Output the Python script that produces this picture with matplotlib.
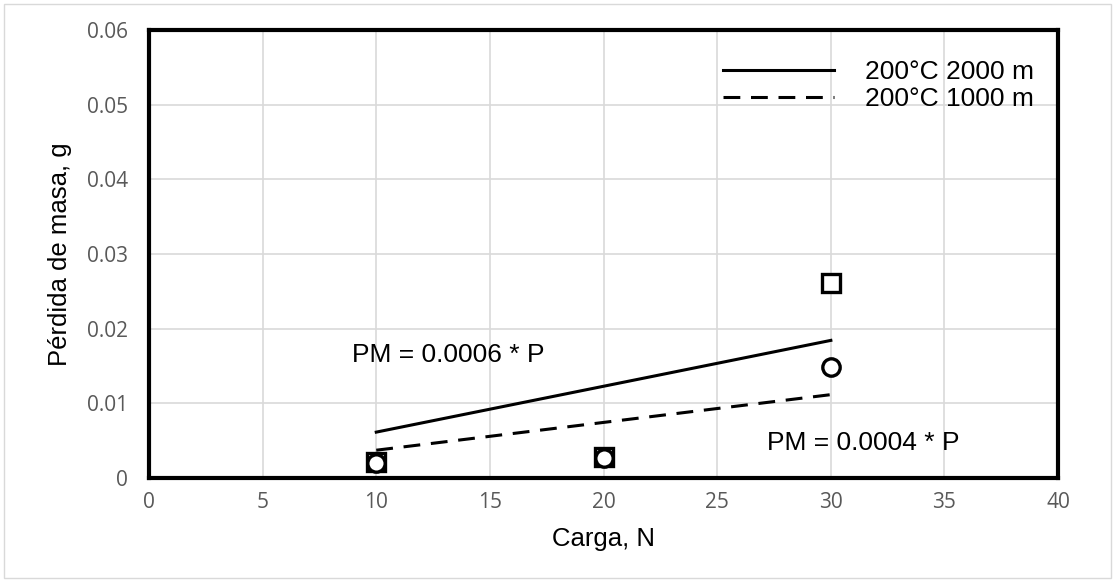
import numpy as np
import matplotlib.pyplot as plt
from matplotlib.patches import Rectangle

plt.rcParams['font.family'] = ['Liberation Sans', 'DejaVu Sans']

carga = [10, 20, 30]
pm_2000 = [0.0021, 0.0028, 0.0261]   # squares
pm_1000 = [0.0020, 0.0027, 0.0149]   # circles
xticks = [0, 5, 10, 15, 20, 25, 30, 35, 40]
yticks = [0, 0.01, 0.02, 0.03, 0.04, 0.05, 0.06]
ytick_labels = ["0", "0.01", "0.02", "0.03", "0.04", "0.05", "0.06"]

# linear fit through origin
x = np.asarray(carga, dtype=float)
k2000 = np.sum(x * np.asarray(pm_2000)) / np.sum(x * x)
k1000 = np.sum(x * np.asarray(pm_1000)) / np.sum(x * x)

fig = plt.figure(figsize=(11.15, 5.82), dpi=100)
ax = fig.add_axes([0.1336, 0.1787, 0.8154, 0.7698])

fig.patches.append(Rectangle((0.004, 0.007), 0.992, 0.986, transform=fig.transFigure,
                             fill=False, edgecolor="#d9d9d9", linewidth=1))

ax.plot(x, k2000 * x, color="black", linewidth=2.2, label="200°C 2000 m")
ax.plot(x, k1000 * x, color="black", linewidth=2.2, linestyle=(0, (5.5, 3.5)), label="200°C 1000 m")

ax.plot(carga, pm_2000, linestyle="none", marker="s", markersize=13, markerfacecolor="white",
        markeredgecolor="black", markeredgewidth=2.4, zorder=4)
ax.plot(carga, pm_1000, linestyle="none", marker="o", markersize=12.5, markerfacecolor="white",
        markeredgecolor="black", markeredgewidth=2.4, zorder=5)

ax.text(8.95, 0.0165, "PM = 0.0006 * P", fontsize=19, va="center", ha="left")
ax.text(27.2, 0.0047, "PM = 0.0004 * P", fontsize=19, va="center", ha="left")

ax.set_xlim(0, 40)
ax.set_ylim(0, 0.06)
ax.set_xticks(xticks)
ax.set_yticks(yticks)
ax.set_yticklabels(ytick_labels)
for lab in ax.get_xticklabels() + ax.get_yticklabels():
    lab.set_family(['Open Sans', 'DejaVu Sans'])
ax.tick_params(length=0, labelsize=15, labelcolor="#595959")
ax.tick_params(axis="x", pad=10)
ax.tick_params(axis="y", pad=15)
ax.grid(True, color="#d9d9d9", linewidth=1.2)
ax.set_axisbelow(True)
for s in ax.spines.values():
    s.set_linewidth(3)
    s.set_color("black")

ax.set_xlabel("Carga, N", fontsize=18.5, labelpad=10)
ax.set_ylabel("Pérdida de masa, g", fontsize=18.5, labelpad=11)

leg = ax.legend(loc="upper right", bbox_to_anchor=(1.0, 0.985), frameon=False, fontsize=19,
                handlelength=4.2, handletextpad=1.2, labelspacing=0.1, borderaxespad=0.5)

fig.savefig("out.png", dpi=100)
